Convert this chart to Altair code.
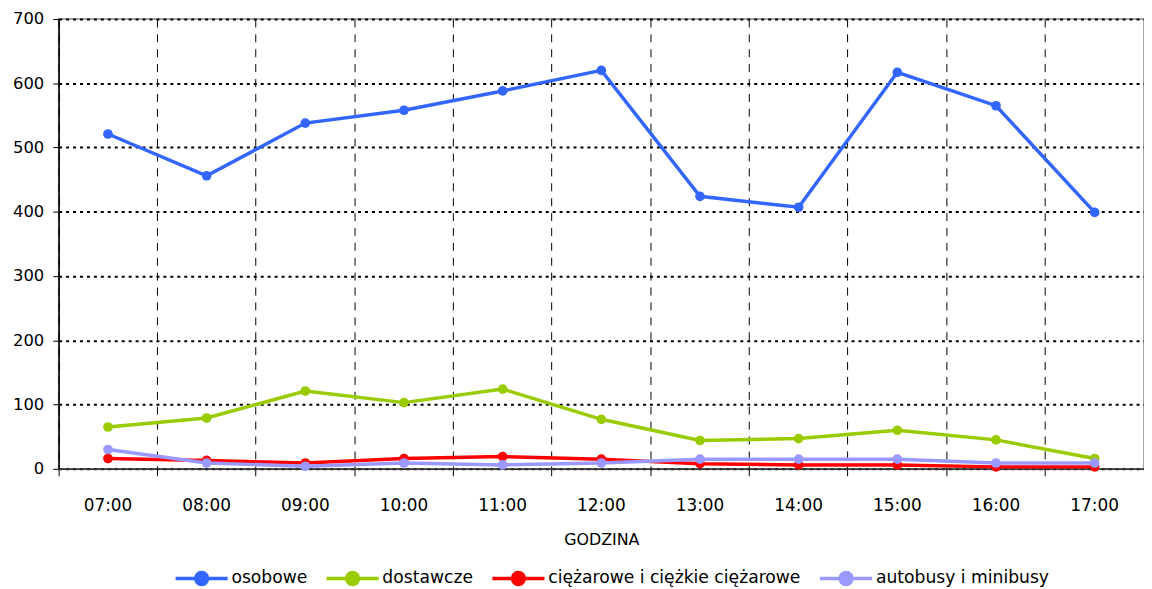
import altair as alt
import pandas as pd

hours = ["07:00", "08:00", "09:00", "10:00", "11:00", "12:00",
         "13:00", "14:00", "15:00", "16:00", "17:00"]
series_names = ["osobowe", "dostawcze", "ciężarowe i ciężkie ciężarowe", "autobusy i minibusy"]
osobowe = [521, 456, 538, 558, 588, 620, 424, 407, 617, 565, 399]
dostawcze = [65, 79, 121, 103, 124, 77, 44, 47, 60, 45, 16]
ciezarowe = [16, 13, 9, 16, 19, 15, 8, 6, 6, 3, 3]
autobusy = [30, 9, 4, 9, 6, 9, 15, 15, 15, 9, 9]
colors = ["#3366FF", "#99CC00", "#FF0000", "#9999FF"]

rows = []
for name, vals in zip(series_names, [osobowe, dostawcze, ciezarowe, autobusy]):
    for i, (h, v) in enumerate(zip(hours, vals)):
        rows.append({"GODZINA": h, "seria": name, "wartosc": v, "order": series_names.index(name)})
df = pd.DataFrame(rows)

W = 1093
H = 453

legend_symbol = "M-1,0H1M0.23,0A0.23,0.23 0 1,1 -0.23,0A0.23,0.23 0 1,1 0.23,0Z"

chart = alt.Chart(df).mark_line(
    strokeWidth=3.5,
    point=alt.OverlayMarkDef(size=95, filled=True, opacity=1),
).encode(
    x=alt.X("GODZINA:N", sort=hours, bandPosition=0.5,
            scale=alt.Scale(type="band", paddingInner=0, paddingOuter=0),
            axis=alt.Axis(title="GODZINA", labelAngle=0, bandPosition=0,
                          grid=True, gridDash=[8, 7],
                          gridColor="#000000", gridWidth=1, tickColor="#000000",
                          tickSize=7, tickDash=[8, 7], domainColor="#333333",
                          domainWidth=1.5, labelPadding=22, labelFontSize=17,
                          labelColor="#000000", titleFontSize=16, titleFontWeight="normal",
                          titlePadding=18, labelFont="DejaVu Sans", titleFont="DejaVu Sans",
                          titleColor="#000000")),
    y=alt.Y("wartosc:Q", scale=alt.Scale(domain=[0, 700], nice=False),
            axis=alt.Axis(title=None, values=[0, 100, 200, 300, 400, 500, 600, 700],
                          grid=True, gridDash=[3, 4], gridColor="#000000", gridWidth=2,
                          tickSize=6, tickColor="#000000", domainColor="#000000",
                          domainWidth=1.5, labelFontSize=16.5, labelColor="#000000",
                          labelFont="DejaVu Sans", labelPadding=9)),
    color=alt.Color("seria:N", sort=series_names,
                    scale=alt.Scale(domain=series_names, range=colors),
                    legend=alt.Legend(title=None, orient="none", direction="horizontal",
                                      legendX=116, legendY=535,
                                      symbolType=legend_symbol, symbolSize=2750,
                                      symbolStrokeWidth=3.5, labelFontSize=17.3, labelLimit=0,
                                      labelFont="DejaVu Sans", labelColor="#000000",
                                      columnPadding=11, labelOffset=2)),
    order=alt.Order("order:Q"),
).properties(
    width=W, height=H,
    autosize=alt.AutoSizeParams(type="none"),
    padding={"left": 51, "top": 9, "right": 0, "bottom": 119},
).configure_view(stroke="#888888", strokeWidth=1.5)

chart.save("out.html", embed_options={"renderer": "svg", "actions": False})
